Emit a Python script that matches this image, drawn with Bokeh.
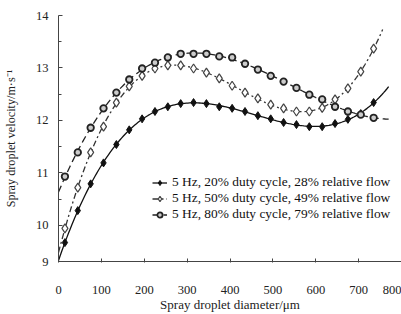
import numpy as np
from bokeh.plotting import figure
from bokeh.models import Range1d, FixedTicker, Legend, LegendItem
from bokeh.embed import file_html
from bokeh.resources import INLINE

# ---- data ----
diameter = [15, 45, 75, 105, 135, 165, 195, 225, 255, 285, 315, 345, 375, 405,
            435, 465, 495, 525, 555, 585, 615, 645, 675, 705, 735]
v_20 = [9.67, 10.28, 10.79, 11.19, 11.54, 11.82, 12.03, 12.17, 12.26, 12.32, 12.34, 12.32,
        12.26, 12.23, 12.17, 12.09, 12.03, 11.96, 11.92, 11.88, 11.88, 11.94, 12.02, 12.13, 12.34]
v_50 = [9.94, 10.72, 11.39, 11.88, 12.34, 12.65, 12.85, 12.99, 13.05, 13.05, 12.99, 12.91,
        12.80, 12.66, 12.53, 12.42, 12.30, 12.23, 12.17, 12.17, 12.24, 12.40, 12.61, 12.93, 13.37]
v_80 = [10.93, 11.39, 11.86, 12.23, 12.53, 12.78, 12.99, 13.10, 13.20, 13.27, 13.27, 13.27,
        13.22, 13.20, 13.08, 12.97, 12.85, 12.74, 12.62, 12.49, 12.40, 12.26, 12.17, 12.11, 12.05]
labels = ["5 Hz, 20% duty cycle, 28% relative flow",
          "5 Hz, 50% duty cycle, 49% relative flow",
          "5 Hz, 80% duty cycle, 79% relative flow"]
trend_end = [770, 756, 770]
x_ticks = [0, 100, 200, 300, 400, 500, 600, 700, 800]
y_ticks = [9.31, 10, 11, 12, 13, 14]
y_tick_labels = ["9", "10", "11", "12", "13", "14"]

FONT = "Liberation Serif"

p = figure(width=401, height=314, output_backend="svg", toolbar_location=None,
           x_range=Range1d(0, 800), y_range=Range1d(9.31, 14),
           min_border_left=58, min_border_right=0, min_border_top=15, min_border_bottom=53)
p.outline_line_color = None
p.grid.visible = False
p.background_fill_color = "white"

def trend(vals, xend, deg=5):
    x = np.array(diameter, dtype=float) / 100.0
    c = np.polyfit(x, np.array(vals), deg)
    xs = np.linspace(0, xend, 200)
    return xs, np.polyval(c, xs / 100.0)

# series 1
xs, ys = trend(v_20, trend_end[0])
l1 = p.line(xs, ys, line_color="#111111", line_width=1.3)
m1 = p.scatter(diameter, v_20, marker="diamond", size=8, fill_color="#111111", line_color="#111111")
# series 2
xs, ys = trend(v_50, trend_end[1])
l2 = p.line(xs, ys, line_color="#333333", line_width=1.3, line_dash="6 3 2 3")
m2 = p.scatter(diameter, v_50, marker="diamond", size=9, fill_color="white", line_color="#444444", line_width=1.2)
# series 3
xs, ys = trend(v_80, trend_end[2])
l3 = p.line(xs, ys, line_color="#222222", line_width=1.3, line_dash="7 4")
m3 = p.scatter(diameter, v_80, marker="circle", size=6.5, fill_color="#cccccc", line_color="#222222", line_width=1.8)

legend = Legend(items=[LegendItem(label=labels[0], renderers=[l1, m1]),
                       LegendItem(label=labels[1], renderers=[l2, m2]),
                       LegendItem(label=labels[2], renderers=[l3, m3])],
                location=(94, 39), orientation="vertical")
legend.border_line_alpha = 0
legend.background_fill_alpha = 0
legend.padding = 0
legend.margin = 0
legend.spacing = 0
legend.glyph_width = 15
legend.glyph_height = 13
legend.label_height = 13
legend.label_standoff = 5
legend.label_text_font = FONT
legend.label_text_font_size = "13.4px"
legend.label_text_color = "#111111"
p.add_layout(legend, "center")

# axes
xa = p.xaxis[0]
xa.ticker = FixedTicker(ticks=x_ticks)
xa.major_tick_in = 3
xa.major_tick_out = 1
xa.major_label_standoff = 23
xa.axis_label = "Spray droplet diameter/\u03bcm"
xa.axis_label_standoff = 0

ya = p.yaxis[0]
ya.ticker = FixedTicker(ticks=y_ticks, minor_ticks=[10.5, 11.5, 12.5, 13.5])
ya.major_label_overrides = {t: s for t, s in zip(y_ticks, y_tick_labels)}
ya.major_tick_in = 4
ya.major_tick_out = 0
ya.minor_tick_in = 3
ya.minor_tick_out = 0
ya.major_label_standoff = 10
ya.axis_label = "Spray droplet velocity/m\u00b7s\u207b\u00b9"
ya.axis_label_standoff = 15

for ax in (xa, ya):
    ax.axis_line_color = "#444444"
    ax.major_tick_line_color = "#444444"
    ax.major_label_text_font = FONT
    ax.major_label_text_font_size = "12.5px"
    ax.major_label_text_color = "#222222"
    ax.axis_label_text_font = FONT
    ax.axis_label_text_font_style = "normal"
    ax.axis_label_text_color = "#222222"
xa.axis_label_text_font_size = "13px"
ya.axis_label_text_font_size = "12.2px"
xa.minor_tick_line_color = None
ya.minor_tick_line_color = "#444444"

open("out.html", "w").write(file_html(p, INLINE))
